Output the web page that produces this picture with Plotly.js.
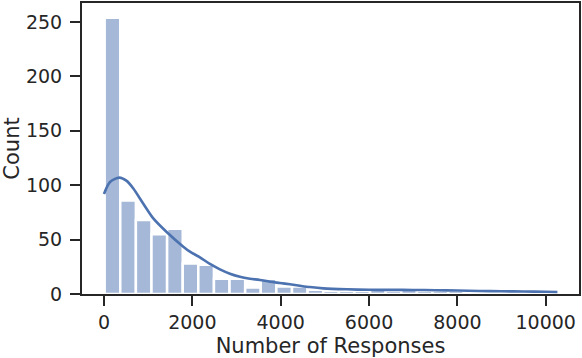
<!DOCTYPE html>
<html>
<head>
<meta charset="utf-8">
<script src="https://cdn.plot.ly/plotly-3.0.1.min.js"></script>
<style>
html,body{margin:0;padding:0;background:#fff;}
#chart{width:582px;height:358px;}
</style>
</head>
<body>
<div id="chart"></div>
<script>
// Histogram bins (left edges) and counts
const binWidth = 353.4;
const binLeft = [15, 368, 722, 1075, 1429, 1782, 2135, 2489, 2842, 3196,
                 3549, 3902, 4256, 4609, 4963, 5316, 5669, 6023, 6376, 6730,
                 7083, 7437, 7790, 8143, 8497, 8850, 9204, 9557, 9910];
const counts = [254, 86, 68, 55, 60, 28, 27, 14, 14, 6,
                14, 7, 7, 4, 3, 3, 3, 4, 3, 4,
                3, 3, 3, 2, 2, 1, 2, 1, 1];

// KDE curve (in count units)
const kdeX = [0, 136, 346, 513, 664, 890, 1116, 1418, 1795, 1945, 2172, 2398,
              2624, 2851, 3077, 3303, 3529, 3756, 3982, 4208, 4434, 4661,
              4962, 5500, 6000, 6500, 7000, 7500, 8000, 8500, 9000, 9500,
              10000, 10264];
const kdeY = [92, 103, 107, 104, 97, 83, 69.5, 57, 43.5, 38.9, 33.7, 27.6,
              22.7, 18.7, 15.9, 14.1, 12.9, 11.3, 10.1, 8.9, 7.6, 6.4,
              5.2, 4.3, 3.9, 3.8, 3.7, 3.5, 3.2, 2.8, 2.5, 2.3,
              2.0, 1.8];

const xTicks = [0, 2000, 4000, 6000, 8000, 10000];
const yTicks = [0, 50, 100, 150, 200, 250];

const binCenter = binLeft.map(v => v + binWidth / 2);

const textColor = '#262626';

const traces = [
  {
    type: 'bar',
    x: binCenter,
    y: counts,
    width: binLeft.map(() => binWidth),
    marker: {color: 'rgba(76,114,176,0.5)', line: {color: '#ffffff', width: 2.5}},
    hoverinfo: 'skip'
  },
  {
    type: 'scatter',
    mode: 'lines',
    x: kdeX,
    y: kdeY,
    line: {color: '#4c72b0', width: 2.6, shape: 'spline', smoothing: 0.8},
    hoverinfo: 'skip'
  }
];

const layout = {
  width: 582,
  height: 358,
  margin: {l: 82, r: 3, t: 3, b: 64},
  paper_bgcolor: '#ffffff',
  plot_bgcolor: '#ffffff',
  showlegend: false,
  bargap: 0,
  font: {family: 'DejaVu Sans', color: textColor, size: 19},
  xaxis: {
    range: [-498, 10753],
    tickvals: xTicks,
    ticktext: xTicks.map(String),
    ticks: 'outside',
    ticklen: 10,
    tickwidth: 2,
    tickcolor: textColor,
    showline: true,
    linecolor: textColor,
    linewidth: 2,
    mirror: true,
    showgrid: false,
    zeroline: false,
    ticklabelstandoff: 0,
    tickfont: {size: 19, color: textColor},
    title: {text: 'Number of Responses', font: {size: 21, color: textColor}, standoff: 9}
  },
  yaxis: {
    range: [0, 267.5],
    tickvals: yTicks,
    ticktext: yTicks.map(String),
    ticks: 'outside',
    ticklen: 10,
    tickwidth: 2,
    tickcolor: textColor,
    showline: true,
    linecolor: textColor,
    linewidth: 2,
    mirror: true,
    showgrid: false,
    zeroline: false,
    ticklabelstandoff: 4,
    tickfont: {size: 19, color: textColor},
    title: {text: 'Count', font: {size: 21, color: textColor}, standoff: 10}
  }
};

Plotly.newPlot('chart', traces, layout, {staticPlot: true, displayModeBar: false});
</script>
</body>
</html>
